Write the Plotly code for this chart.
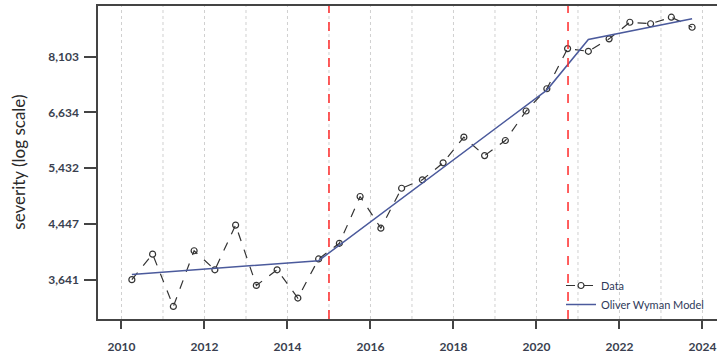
import plotly.graph_objects as go

# Data (semi-annual observations)
data_t = [2010.25, 2010.75, 2011.25, 2011.75, 2012.25, 2012.75, 2013.25, 2013.75,
          2014.25, 2014.75, 2015.25, 2015.75, 2016.25, 2016.75, 2017.25, 2017.75,
          2018.25, 2018.75, 2019.25, 2019.75, 2020.25, 2020.75, 2021.25, 2021.75,
          2022.25, 2022.75, 2023.25, 2023.75]
data_sev = [3644, 3993, 3311, 4042, 3775, 4431, 3570, 3775,
            3412, 3925, 4151, 4909, 4382, 5056, 5211, 5538,
            6071, 5683, 5999, 6667, 7220, 8338, 8257, 8633,
            9163, 9113, 9330, 9000]

# Oliver Wyman model (piecewise line knots)
model_t = [2010.25, 2014.75, 2020.25, 2021.25, 2023.75]
model_sev = [3713, 3901, 7186, 8614, 9275]

# Structural break markers
break_t = [2015.0, 2020.76]

# Axis ticks
y_tickvals = [3640.95, 4447.07, 5431.66, 6634.24, 8103.08]
y_ticktext = ["3,641", "4,447", "5,432", "6,634", "8,103"]
x_tickvals = [2010, 2012, 2014, 2016, 2018, 2020, 2022, 2024]
grid_years = list(range(2010, 2025))

fig = go.Figure()

fig.add_trace(go.Scatter(
    x=data_t, y=data_sev, mode="lines+markers", name="Data",
    line=dict(color="#333333", width=1.2, dash="dash"),
    marker=dict(symbol="circle-open", size=6, color="#333333", line=dict(width=1.2)),
))
fig.add_trace(go.Scatter(
    x=model_t, y=model_sev, mode="lines", name="Oliver Wyman Model",
    line=dict(color="#4b5a9c", width=1.5),
))

shapes = []
for g in grid_years:
    shapes.append(dict(type="line", xref="x", yref="paper", x0=g, x1=g, y0=0, y1=1,
                       line=dict(color="#d0d0d0", width=1, dash="dot"), layer="below"))
for b in break_t:
    shapes.append(dict(type="line", xref="x", yref="paper", x0=b, x1=b, y0=0, y1=1,
                       line=dict(color="#ff2a2a", width=1.5, dash="dash")))

tick_font = dict(family="Lato", size=12, color="#3a3f4f", weight="bold")

fig.update_layout(
    width=717, height=354,
    margin=dict(l=98, r=0, t=6, b=35, autoexpand=False),
    paper_bgcolor="white", plot_bgcolor="white",
    shapes=shapes,
    showlegend=True,
    legend=dict(x=0.748, y=0.0, xanchor="left", yanchor="bottom",
                bgcolor="rgba(0,0,0,0)", font=dict(family="Lato", size=11, color="#2f3a5a"),
                tracegroupgap=0, itemwidth=30),
    annotations=[dict(text="severity (log scale)", xref="paper", yref="paper",
                      x=-0.129, y=0.5, textangle=-90, showarrow=False,
                      xanchor="center", yanchor="middle",
                      font=dict(family="Lato", size=17, color="#2a2a2a"))],
    xaxis=dict(range=[2009.434, 2024.35], tickvals=x_tickvals,
               ticktext=[str(v) for v in x_tickvals],
               showgrid=False, zeroline=False,
               showline=True, linecolor="#444444", linewidth=1.5, mirror=True,
               ticks="outside", ticklen=8, tickwidth=1.5, tickcolor="#444444",
               ticklabelstandoff=8, tickfont=tick_font),
    yaxis=dict(type="log", range=[3.5004, 3.9873], tickvals=y_tickvals, ticktext=y_ticktext,
               showgrid=False, zeroline=False,
               showline=True, linecolor="#444444", linewidth=1.5, mirror=False,
               ticks="outside", ticklen=12, tickwidth=1.5, tickcolor="#444444",
               ticklabelstandoff=3, tickfont=tick_font),
)

fig.write_html("out.html")
